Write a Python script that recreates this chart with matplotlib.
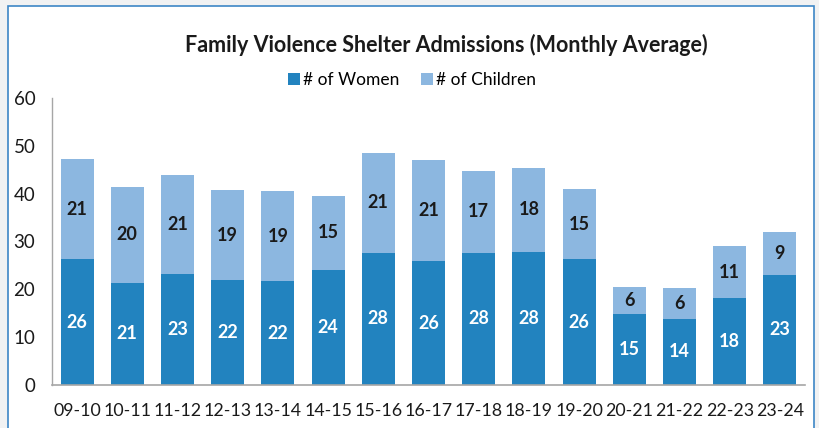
import matplotlib
matplotlib.use("Agg")
import matplotlib.pyplot as plt
from matplotlib.patches import Rectangle
import numpy as np

categories = ["09-10", "10-11", "11-12", "12-13", "13-14", "14-15", "15-16", "16-17",
              "17-18", "18-19", "19-20", "20-21", "21-22", "22-23", "23-24"]
women = [26.3, 21.4, 23.2, 22.0, 21.7, 24.1, 27.7, 25.9, 27.7, 27.8, 26.3, 14.8, 13.9, 18.1, 23.0]
children = [20.9, 20.0, 20.6, 18.7, 18.8, 15.4, 20.9, 21.1, 17.1, 17.6, 14.6, 5.6, 6.4, 10.9, 9.0]
yticks = [0, 10, 20, 30, 40, 50, 60]

plt.rcParams['font.family'] = ['Lato', 'DejaVu Sans']

W, H = 819, 428
fig = plt.figure(figsize=(W / 100, H / 100), dpi=100, facecolor="#f1f2f3")
# white panel with blue border
panel = Rectangle((8 / W, -0.05), (814 - 8) / W, (H - 6) / H + 0.05,
                  transform=fig.transFigure, facecolor="white",
                  edgecolor="#3d86c6", linewidth=1.2, zorder=-10)
fig.patches.append(panel)

ax = fig.add_axes([52 / W, 1 - 385 / H, (805 - 52) / W, (385 - 98) / H])
ax.set_facecolor("none")
ax.set_zorder(5)

dark = "#2283bf"
light = "#8cb7e0"
x = np.arange(len(categories))
bw = 0.66
b1 = ax.bar(x, women, bw, color=dark, label="# of Women", zorder=2)
b2 = ax.bar(x, children, bw, bottom=women, color=light, label="# of Children", zorder=2)

for xi, w, c in zip(x, women, children):
    ax.text(xi, w / 2, f"{round(w):d}", ha="center", va="center", color="white",
            fontsize=13, fontweight="bold")
    ax.text(xi, w + c / 2, f"{round(c):d}", ha="center", va="center", color="#1a1a1a",
            fontsize=13, fontweight="bold")

ax.set_xlim(-0.5, len(categories) - 0.5)
ax.set_ylim(0, 60)
ax.set_yticks(yticks)
ax.set_xticks(x)
ax.set_xticklabels(categories)
ax.tick_params(axis="both", length=0, colors="#1a1a1a")
ax.tick_params(axis="y", pad=12, labelsize=13.5)
ax.tick_params(axis="x", pad=13, labelsize=12.8)
for s in ["top", "right"]:
    ax.spines[s].set_visible(False)
ax.spines["left"].set_color("#a6a6a6")
ax.spines["bottom"].set_color("#a6a6a6")
ax.spines["left"].set_linewidth(1.0)
ax.spines["bottom"].set_linewidth(1.2)

fig.text(446 / W, 1 - 45 / H, "Family Violence Shelter Admissions (Monthly Average)",
         ha="center", va="center", fontsize=15.5, fontweight="bold", color="#1a1a1a")
fig.legend(handles=[b1, b2], loc="center", bbox_to_anchor=(412 / W, 1 - 80 / H),
           ncol=2, frameon=False, fontsize=12.5, handlelength=0.7, handleheight=0.7,
           handletextpad=0.2, columnspacing=1.2)

fig.savefig("out.png", dpi=100, facecolor=fig.get_facecolor())
